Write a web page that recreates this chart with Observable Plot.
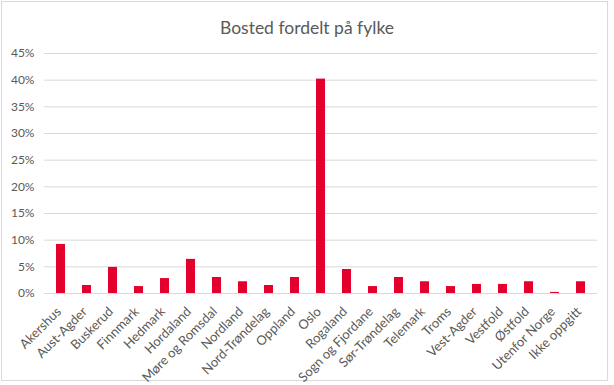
<!DOCTYPE html>
<html>
<head>
<meta charset="utf-8">
<script src="https://cdn.jsdelivr.net/npm/d3@7"></script>
<script src="https://cdn.jsdelivr.net/npm/@observablehq/plot@0.6"></script>
<style>
  html, body { margin: 0; padding: 0; background: #fff; }
  #wrap { position: relative; width: 614px; height: 385px; overflow: hidden; font-family: Lato, "Open Sans", sans-serif; }
  #frame { position: absolute; left: 1px; top: 1px; width: 607px; height: 380px; border: 1px solid #d9d9d9; box-sizing: border-box; pointer-events: none; }
  #title { position: absolute; left: 0; top: 17px; width: 614px; text-align: center; font-size: 17.5px; color: #595959; }
  #chart { position: absolute; left: 0; top: 0; }
</style>
</head>
<body>
<div id="wrap">
  <div id="frame"></div>
  <div id="title">Bosted fordelt på fylke</div>
  <div id="chart"></div>
</div>
<script>
const categories = ["Akershus", "Aust-Agder", "Buskerud", "Finnmark", "Hedmark", "Hordaland", "Møre og Romsdal", "Nordland", "Nord-Trøndelag", "Oppland", "Oslo", "Rogaland", "Sogn og Fjordane", "Sør-Trøndelag", "Telemark", "Troms", "Vest-Agder", "Vestfold", "Østfold", "Utenfor Norge", "Ikke oppgitt"];
const values = [0.092, 0.015, 0.049, 0.013, 0.028, 0.064, 0.030, 0.022, 0.015, 0.030, 0.402, 0.045, 0.013, 0.030, 0.022, 0.013, 0.017, 0.017, 0.022, 0.002, 0.022];
const yTicks = [0, 0.05, 0.10, 0.15, 0.20, 0.25, 0.30, 0.35, 0.40, 0.45];

const data = categories.map((c, i) => ({category: c, value: values[i]}));

const chart = Plot.plot({
  width: 614,
  height: 385,
  marginTop: 53,
  marginBottom: 92,
  marginLeft: 44,
  marginRight: 17,
  style: {fontFamily: "Lato, 'Open Sans', sans-serif", fontSize: "12px", color: "#595959", background: "transparent"},
  x: {domain: categories, paddingInner: 0.66, paddingOuter: 0.33, label: null},
  y: {domain: [0, 0.45], label: null},
  marks: [
    Plot.gridY(yTicks, {stroke: "#d9d9d9", strokeOpacity: 1}),
    Plot.barY(data, {x: "category", y: "value", fill: "#e3002c"}),
    Plot.axisY(yTicks, {tickSize: 0, tickPadding: 10, tickFormat: d3.format(".0%"), label: null, fill: "#595959"}),
    Plot.axisX({tickSize: 0, tickRotate: -45, tickPadding: 16, label: null, fill: "#595959", fontSize: 13, dx: -2})
  ]
});
document.getElementById("chart").appendChild(chart);
</script>
</body>
</html>
